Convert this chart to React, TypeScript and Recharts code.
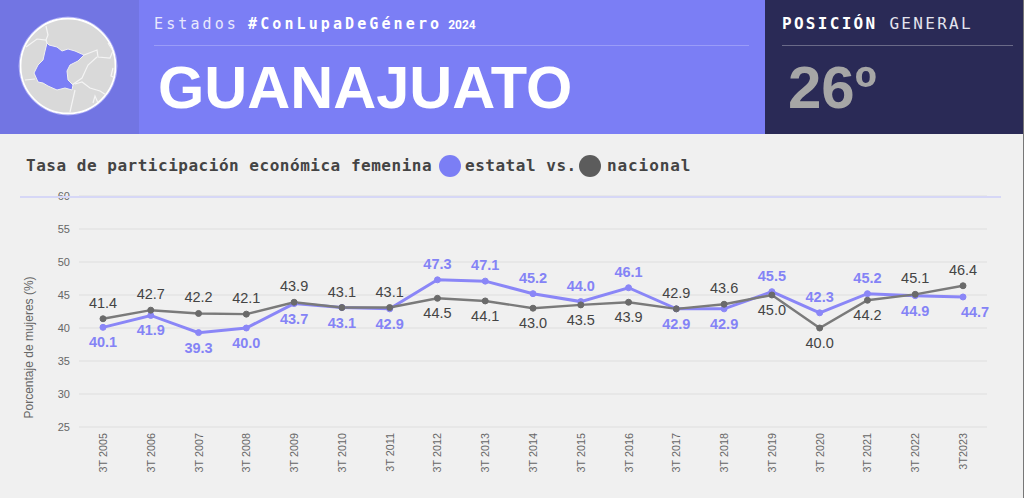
import { LineChart, Line, XAxis, YAxis, CartesianGrid, LabelList } from 'recharts';

const categories = [
  '3T 2005', '3T 2006', '3T 2007', '3T 2008', '3T 2009', '3T 2010', '3T 2011', '3T 2012', '3T 2013', '3T 2014',
  '3T 2015', '3T 2016', '3T 2017', '3T 2018', '3T 2019', '3T 2020', '3T 2021', '3T 2022', '3T2023',
];
const estatal = [40.1, 41.9, 39.3, 40.0, 43.7, 43.1, 42.9, 47.3, 47.1, 45.2, 44.0, 46.1, 42.9, 42.9, 45.5, 42.3, 45.2, 44.9, 44.7];
const nacional = [41.4, 42.7, 42.2, 42.1, 43.9, 43.1, 43.1, 44.5, 44.1, 43.0, 43.5, 43.9, 42.9, 43.6, 45.0, 40.0, 44.2, 45.1, 46.4];
const yTicks = [25, 30, 35, 40, 45, 50, 55, 60];

const data = categories.map((name, i) => ({ name, estatal: estatal[i], nacional: nacional[i] }));

const PURPLE = '#7b7ef5';
const MONO = '"DejaVu Sans Mono", monospace';
const SANS = '"Liberation Sans", Arial, sans-serif';

// label goes above the line that is on top at that year, below the other one
function makeLabel(series: 'estatal' | 'nacional') {
  return function PointLabel(props: any) {
    const { x, y, index, value } = props;
    const nacionalOnTop = nacional[index] >= estatal[index];
    const above = series === 'nacional' ? nacionalOnTop : !nacionalOnTop;
    const last = index === categories.length - 1 && series === 'estatal';
    return (
      <text
        x={x + (last ? 12 : 0)}
        y={above ? y - 11 : y + 20}
        textAnchor="middle"
        fontFamily={SANS}
        fontSize={14.5}
        fontWeight={series === 'estatal' ? 700 : 400}
        fill={series === 'estatal' ? '#8483f6' : '#444444'}
      >
        {value.toFixed(1)}
      </text>
    );
  };
}

function XTick({ x, y, payload }: any) {
  return (
    <text
      transform={`translate(${x + 4},${y - 2}) rotate(-90)`}
      textAnchor="end"
      fontFamily={SANS}
      fontSize={10.8}
      fill="#666666"
    >
      {payload.value}
    </text>
  );
}

function Globe() {
  return (
    <svg width={100} height={100} style={{ position: 'absolute', left: 18, top: 16 }} viewBox="0 0 100 100">
      <defs>
        <clipPath id="ball">
          <circle cx={50} cy={50} r={47} />
        </clipPath>
      </defs>
      <circle cx={50} cy={50} r={49} fill="none" stroke="#a9aaf8" strokeWidth={1} />
      <circle cx={50} cy={50} r={47.5} fill="#d9d9d9" stroke="#ffffff" strokeWidth={1.8} />
      <g clipPath="url(#ball)" fill="none" stroke="#f4f4f4" strokeWidth={1.2}>
        <path d="M8 31 L19 23 L28 24 L30 19 L28 10" />
        <path d="M28 24 L29 27" />
        <path d="M7 64 L17 63" />
        <path d="M66 39 L79 34 L80 41 L92 42 L95 35 L90 27" />
        <path d="M79 41 L70 49 L64 62 L54 69" />
        <path d="M57 68 L64 66 L72 72 L82 75 L96 84" />
        <path d="M57 74 L52 96" />
        <path d="M75 87 L77 80 L80 87" />
        <path d="M95 52 L93 60 L97 62" />
      </g>
      <path
        d="M29 27 L31 29 L39 31 L44 35 L50 33 L57 35 L66 39 L60 45 L52 49 L49 55 L50 64 L55 69 L54 74 L47 72 L39 74 L30 70 L25 67 L20 66 L16 57 L20 49 L25 44 L27 35 Z"
        fill={PURPLE}
        stroke="#f0f0f0"
        strokeWidth={1}
        strokeLinejoin="round"
      />
    </svg>
  );
}

export default function App() {
  return (
    <div style={{ position: 'absolute', left: 0, top: 0, width: 1024, height: 498, background: '#f0f0f0', overflow: 'hidden' }}>
      {/* header */}
      <div style={{ position: 'absolute', left: 0, top: 0, width: 139, height: 134, background: '#7275e3' }} />
      <div style={{ position: 'absolute', left: 139, top: 0, width: 626, height: 134, background: '#7b7ef5' }} />
      <div style={{ position: 'absolute', left: 765, top: 0, width: 259, height: 134, background: '#2a2a56' }} />
      <Globe />
      <div style={{ position: 'absolute', left: 154, top: 15, whiteSpace: 'nowrap', color: '#e8e8fd', fontFamily: MONO, fontSize: 15, letterSpacing: 3.1 }}>
        Estados <b style={{ color: '#ffffff', fontWeight: 700, marginLeft: -3 }}>#ConLupaDeGénero</b>
        <b style={{ color: '#ffffff', fontFamily: 'Roboto', fontSize: 12, letterSpacing: 0, marginLeft: 6 }}>2024</b>
      </div>
      <div style={{ position: 'absolute', left: 154, top: 45, width: 595, height: 1, background: '#9a9cf8' }} />
      <div style={{ position: 'absolute', left: 158, top: 53, whiteSpace: 'nowrap', color: '#ffffff', fontFamily: SANS, fontWeight: 700, fontSize: 59.5 }}>
        GUANAJUATO
      </div>
      <div style={{ position: 'absolute', left: 782, top: 14, whiteSpace: 'nowrap', color: '#e4e4ee', fontFamily: MONO, fontSize: 16, letterSpacing: 2.3 }}>
        <b style={{ color: '#ffffff' }}>POSICIÓN</b> GENERAL
      </div>
      <div style={{ position: 'absolute', left: 782, top: 45, width: 231, height: 1, background: '#6a6a88' }} />
      <div style={{ position: 'absolute', left: 788, top: 53, whiteSpace: 'nowrap', color: '#a6a6a6', fontFamily: SANS, fontWeight: 700, fontSize: 60 }}>
        26º
      </div>

      {/* chart title with inline legend */}
      <div style={{ position: 'absolute', left: 26, top: 156, whiteSpace: 'nowrap', color: '#444444', fontFamily: MONO, fontWeight: 700, fontSize: 16, letterSpacing: 0.52 }}>
        Tasa de participación económica femenina
      </div>
      <div style={{ position: 'absolute', left: 439, top: 155, width: 22, height: 22, borderRadius: 11, background: PURPLE }} />
      <div style={{ position: 'absolute', left: 465, top: 156, whiteSpace: 'nowrap', color: '#444444', fontFamily: MONO, fontWeight: 700, fontSize: 16, letterSpacing: 0.52 }}>
        estatal vs.
      </div>
      <div style={{ position: 'absolute', left: 579, top: 155, width: 22, height: 22, borderRadius: 11, background: '#5c5c5c' }} />
      <div style={{ position: 'absolute', left: 607, top: 156, whiteSpace: 'nowrap', color: '#444444', fontFamily: MONO, fontWeight: 700, fontSize: 16, letterSpacing: 0.9 }}>
        nacional
      </div>

      <div style={{ position: 'absolute', left: 0, top: 0 }}>
        <LineChart width={1024} height={498} data={data} margin={{ top: 196, right: 37, bottom: 11, left: 19 }}>
          <CartesianGrid horizontal vertical={false} stroke="#dedede" />
          <XAxis
            dataKey="name"
            interval={0}
            height={60}
            padding={{ left: 24, right: 24 }}
            axisLine={false}
            tickLine={false}
            tick={<XTick />}
          />
          <YAxis
            domain={[25, 60]}
            ticks={yTicks}
            width={60}
            axisLine={false}
            tickLine={false}
            tickMargin={3}
            tick={{ fontSize: 11, fontFamily: SANS, fill: '#666666' }}
            label={{
              value: 'Porcentaje de mujeres (%)',
              angle: -90,
              position: 'insideLeft',
              dx: 5,
              dy: 107,
              style: { fontSize: 12, fontFamily: SANS, fill: '#666666' },
            }}
          />
          <Line
            dataKey="estatal"
            stroke="#8a86f7"
            strokeWidth={3}
            dot={{ r: 3, fill: '#8a86f7', stroke: '#8a86f7', strokeWidth: 1 }}
            isAnimationActive={false}
          >
            <LabelList dataKey="estatal" content={makeLabel('estatal')} />
          </Line>
          <Line
            dataKey="nacional"
            stroke="#7a7a7a"
            strokeWidth={2.4}
            dot={{ r: 3, fill: '#6a6a6a', stroke: '#6a6a6a', strokeWidth: 1 }}
            isAnimationActive={false}
          >
            <LabelList dataKey="nacional" content={makeLabel('nacional')} />
          </Line>
        </LineChart>
      </div>

      <div style={{ position: 'absolute', left: 20, top: 196, width: 981, height: 2, background: '#d6d7f6' }} />
      <div style={{ position: 'absolute', left: 1023, top: 0, width: 1, height: 498, background: '#777777' }} />
    </div>
  );
}
